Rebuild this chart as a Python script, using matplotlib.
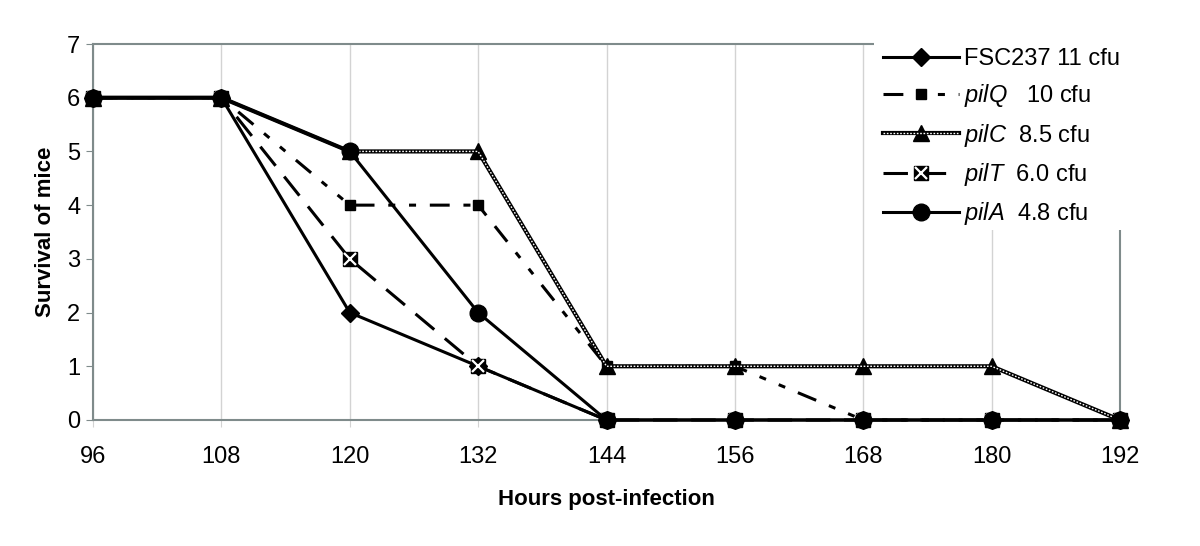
import matplotlib
matplotlib.use("Agg")
import matplotlib.pyplot as plt
from matplotlib.patches import Rectangle
from matplotlib.legend_handler import HandlerTuple

plt.rcParams['font.family'] = ['Liberation Sans', 'DejaVu Sans']
plt.rcParams['mathtext.fontset'] = 'custom'
plt.rcParams['mathtext.rm'] = 'Liberation Sans'
plt.rcParams['mathtext.it'] = 'Liberation Sans:italic'

hours = [96, 108, 120, 132, 144, 156, 168, 180, 192]
fsc237 = [6, 6, 2, 1, 0, 0, 0, 0, 0]
pilQ = [6, 6, 4, 4, 1, 1, 0, 0, 0]
pilC = [6, 6, 5, 5, 1, 1, 1, 1, 0]
pilT = [6, 6, 3, 1, 0, 0, 0, 0, 0]
pilA = [6, 6, 5, 2, 0, 0, 0, 0, 0]
labels = ["FSC237 11 cfu", r"$\mathit{pilQ}$   10 cfu", r"$\mathit{pilC}$  8.5 cfu",
          r"$\mathit{pilT}$  6.0 cfu", r"$\mathit{pilA}$  4.8 cfu"]
yticks = [0, 1, 2, 3, 4, 5, 6, 7]

fig = plt.figure(figsize=(12, 5.46), dpi=100)
ax = fig.add_axes([93/1200, 1-420/546, (1120-93)/1200, (420-44)/546])

lw = 2.2
spine_c = '#7f8b8b'

h1, = ax.plot(hours, fsc237, color='black', lw=lw, marker='D', ms=9, clip_on=False, zorder=3)
h2, = ax.plot(hours, pilQ, color='black', lw=lw, marker='s', ms=7.5, dashes=(6.5, 4.5, 2.3, 4.5, 2.3, 4.5),
              clip_on=False, zorder=3.1)
h3a, = ax.plot(hours, pilC, color='black', lw=3.0, marker='^', ms=12, clip_on=False, zorder=3.2)
h3b, = ax.plot(hours, pilC, color='white', lw=1.0, dashes=(1.2, 1.2), clip_on=False, zorder=3.25)
h4a, = ax.plot(hours, pilT, color='black', lw=lw, marker='s', ms=10, dashes=(8, 4.5), clip_on=False, zorder=3.3)
h4b, = ax.plot(hours, pilT, ls='none', marker='x', ms=8, mew=1.6, color='white', clip_on=False, zorder=3.35)
h5, = ax.plot(hours, pilA, color='black', lw=lw, marker='o', ms=12, clip_on=False, zorder=3.4)

ax.set_xlim(96, 192)
ax.set_ylim(0, 7)
ax.set_xticks(hours)
ax.set_yticks(yticks)
ax.grid(axis='x', color='#d3d3d3', lw=1)
ax.set_axisbelow(True)
for s in ax.spines.values():
    s.set_color(spine_c)
    s.set_linewidth(1.5)
ax.tick_params(axis='y', length=5, color=spine_c, labelsize=17, pad=4)
ax.tick_params(axis='x', length=5, color='#d3d3d3', labelsize=17, pad=14)
ax.set_xlabel("Hours post-infection", fontsize=16, fontweight='bold', labelpad=15)
ax.set_ylabel("Survival of mice", fontsize=16, fontweight='bold', labelpad=8)

fig.add_artist(Rectangle((874/1200, 1-230/546), (1200-874)/1200, 190/546,
                         transform=fig.transFigure, facecolor='white', edgecolor='none', zorder=2))

fig.legend([h1, h2, (h3a, h3b), (h4a, h4b), h5], labels,
           handler_map={tuple: HandlerTuple(ndivide=1, pad=0)},
           loc='upper left', bbox_to_anchor=(883/1200, 1-48/546), frameon=False,
           fontsize=17, handlelength=3.2, handletextpad=0.25, labelspacing=0.52,
           borderpad=0, borderaxespad=0).set_zorder(6)

fig.savefig("out.png", dpi=100)
